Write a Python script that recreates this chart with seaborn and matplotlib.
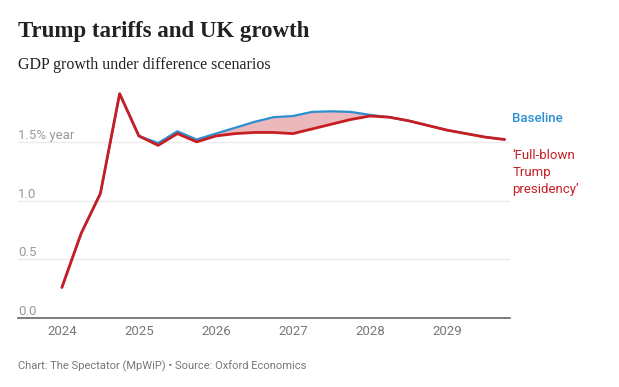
import numpy as np
import pandas as pd
import matplotlib.pyplot as plt
import seaborn as sns

# Quarterly GDP growth (% year)
quarters = [2024.0, 2024.25, 2024.5, 2024.75,
            2025.0, 2025.25, 2025.5, 2025.75,
            2026.0, 2026.25, 2026.5, 2026.75,
            2027.0, 2027.25, 2027.5, 2027.75,
            2028.0, 2028.25, 2028.5, 2028.75,
            2029.0, 2029.25, 2029.5, 2029.75]
baseline = [0.26, 0.72, 1.06, 1.91,
            1.55, 1.49, 1.59, 1.52,
            1.57, 1.62, 1.67, 1.71,
            1.72, 1.755, 1.76, 1.755,
            1.73, 1.71, 1.68, 1.64,
            1.60, 1.57, 1.54, 1.52]
trump = [0.26, 0.72, 1.06, 1.91,
         1.55, 1.47, 1.57, 1.50,
         1.55, 1.57, 1.58, 1.58,
         1.57, 1.61, 1.65, 1.69,
         1.72, 1.71, 1.68, 1.64,
         1.60, 1.57, 1.54, 1.52]
year_ticks = [2024, 2025, 2026, 2027, 2028, 2029]
y_ticks = [0.0, 0.5, 1.0, 1.5]
y_labels = ['0.0', '0.5', '1.0', '1.5% year']

BLUE = '#2b8fd1'
RED = '#c71e24'
FILL = '#ebb8bc'
GREY = '#777777'

df = pd.DataFrame({'quarter': quarters, 'Baseline': baseline, 'Trump': trump})

sns.set_style('white')
plt.rcParams['font.family'] = ['Roboto', 'DejaVu Sans']

fig = plt.figure(figsize=(6.19, 3.87), dpi=100)
ax = fig.add_axes([18 / 619, 1 - 318 / 387, 492 / 619, 229 / 387])

ax.fill_between(df['quarter'], df['Trump'], df['Baseline'],
                where=df['Baseline'] >= df['Trump'], color=FILL, lw=0, zorder=1)
sns.lineplot(data=df, x='quarter', y='Baseline', color=BLUE, lw=1.6, ax=ax, zorder=2)
sns.lineplot(data=df, x='quarter', y='Trump', color=RED, lw=2.0, ax=ax, zorder=3)

ax.set_xlim(2023.43, 2029.82)
ax.set_ylim(0, 1.95)
ax.set_xlabel('')
ax.set_ylabel('')

ax.set_xticks(year_ticks)
ax.set_xticklabels([str(y) for y in year_ticks])
ax.set_yticks(y_ticks)
ax.set_yticklabels(y_labels)
ax.tick_params(axis='x', length=0, pad=5, labelsize=9.5, labelcolor=GREY)
ax.tick_params(axis='y', length=0, pad=0, labelsize=9.5, labelcolor='#9a9a9a')
for lab in ax.get_yticklabels():
    lab.set_horizontalalignment('left')
    lab.set_verticalalignment('bottom')
    lab.set_x(0.0)

ax.grid(axis='y', color='#ebebeb', lw=1)
ax.grid(axis='x', visible=False)
for s in ['top', 'right', 'left']:
    ax.spines[s].set_visible(False)
ax.spines['bottom'].set_color('#666666')
ax.spines['bottom'].set_linewidth(1.2)
ax.set_axisbelow(True)

# Direct labels on the right
ax.text(1.005, 1 - (119 - 89) / 229, 'Baseline', transform=ax.transAxes,
        color=BLUE, fontsize=9.5, fontweight='medium', va='center', ha='left')
ax.text(1.005, 1 - (149 - 89) / 229, '\u2018Full-blown\nTrump\npresidency\u2019',
        transform=ax.transAxes, color=RED, fontsize=9.5, va='top', ha='left',
        linespacing=1.4)

fig.text(18 / 619, 1 - 32 / 387, 'Trump tariffs and UK growth', family='Liberation Serif',
         fontweight='bold', fontsize=16.5, color='#222222', va='center', ha='left')
fig.text(18 / 619, 1 - 65 / 387, 'GDP growth under difference scenarios', family='Liberation Serif',
         fontsize=11.5, color='#222222', va='center', ha='left')
fig.text(18 / 619, 1 - 366 / 387, 'Chart: The Spectator (MpWiP) \u2022 Source: Oxford Economics',
         fontsize=8, color=GREY, va='center', ha='left')

fig.savefig('out.png', dpi=100)
